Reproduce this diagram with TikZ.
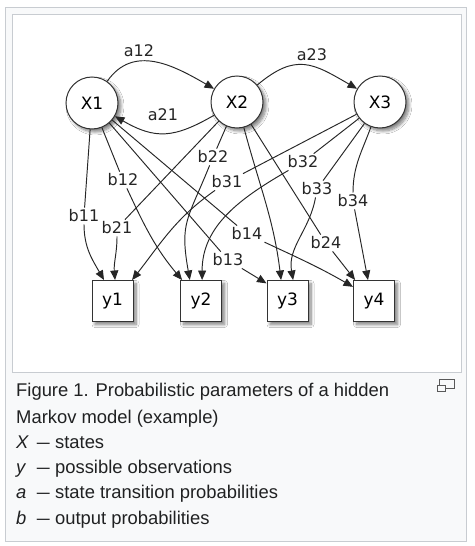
\documentclass[tikz,border=0pt]{standalone}
\usepackage{fontspec}
\usepackage{graphicx}
\setmainfont{Liberation Sans}
\newfontfamily\dvs{DejaVu Sans}
\usetikzlibrary{arrows.meta,shadows.blur}
\definecolor{framec}{HTML}{C8CCD1}
\definecolor{capbg}{HTML}{F8F9FA}
\definecolor{txt}{HTML}{202122}
\newcommand{\capdash}[1]{\makebox[20.7pt][l]{\textit{#1}}\scalebox{1.26}[1]{–}\hspace{5.3pt}}
\begin{document}
\begin{tikzpicture}[x=1pt,y=1pt,
  shadowed/.style={blur shadow={shadow xshift=3pt, shadow yshift=-3pt, shadow blur radius=3pt, shadow blur steps=8, shadow opacity=50}},
  statenode/.style={circle, draw=black!80, line width=1pt, fill=white, minimum size=52pt, inner sep=0pt,
    font=\dvs\fontsize{17}{17}\selectfont, shadowed},
  obsnode/.style={rectangle, draw=black!80, line width=1pt, fill=white, minimum size=41pt, inner sep=0pt,
    font=\dvs\fontsize{17}{17}\selectfont, shadowed},
  lbl/.style={inner sep=2pt, font=\dvs\fontsize{16}{16}\selectfont, text=black!85},
  link/.style={line width=0.95pt, draw=black!85},
  arr/.style={link, -{Triangle[length=9.5pt,width=8pt]}},
  captxt/.style={anchor=base west, inner sep=0pt, text=txt, font=\fontsize{18.4}{18.4}\selectfont},
]
\useasboundingbox (0,0) rectangle (474,-546);
\fill[white] (0,0) rectangle (474,-546);
\draw[framec, fill=capbg, line width=1pt] (5.5,-7.5) rectangle (466.5,-541.5);
\draw[framec, fill=white, line width=1pt] (12,-14) rectangle (461.5,-372);
% enlarge icon
\draw[black!65, line width=1pt] (439.5,-379.5) rectangle (454,-388.5);
\draw[black!65, line width=1pt, fill=capbg] (437.5,-385) rectangle (445,-391.5);

% states
\node[statenode] (X1) at (92,-103) {X1};
\node[statenode] (X2) at (237,-102) {X2};
\node[statenode] (X3) at (380,-102) {X3};
% observations
\node[obsnode] (y1) at (112.5,-301) {y1};
\node[obsnode] (y2) at (201,-301) {y2};
\node[obsnode] (y3) at (287.5,-301) {y3};
\node[obsnode] (y4) at (374,-301) {y4};

% labels
\node[lbl] (a12) at (139,-51) {a12};
\node[lbl] (a23) at (312,-55) {a23};
\node[lbl] (a21) at (163,-115) {a21};
\node[lbl] (b22) at (213,-157) {b22};
\node[lbl] (b32) at (303,-162) {b32};
\node[lbl] (b12) at (123,-180) {b12};
\node[lbl] (b31) at (227,-182) {b31};
\node[lbl] (b33) at (317,-189) {b33};
\node[lbl] (b34) at (353,-201) {b34};
\node[lbl] (b11) at (84,-216) {b11};
\node[lbl] (b21) at (117,-228) {b21};
\node[lbl] (b14) at (247,-234) {b14};
\node[lbl] (b24) at (326,-243) {b24};
\node[lbl] (b13) at (228,-260) {b13};

% transitions
\draw[arr] (X1) to[out=55,in=150,looseness=1.1] (X2);
\draw[arr] (X2) to[out=40,in=150,looseness=1.3] (X3);
\draw[arr] (X2) to[out=-150,in=-30,looseness=1.2] (X1);

% emissions from X1
\draw[link] (X1) -- (b11); \draw[arr] (b11) to[out=-90,in=120] (y1.112);
\draw[link] (X1) -- (b12); \draw[arr] (b12) to[out=-65,in=130] (y2.132);
\draw[link] (X1) -- (b13); \draw[arr] (b13) -- (y3.140);
\draw[link] (X1) -- (b14); \draw[arr] (b14) to[out=-25,in=150] (y4.146);
% emissions from X2
\draw[link] (X2) -- (b21); \draw[arr] (b21) to[out=-90,in=95] (y1.83);
\draw[link] (X2) -- (b22); \draw[arr] (b22) to[out=-112,in=100,looseness=1.3] (y2.118);
\draw[arr] (X2) to[out=-75,in=97] (y3.107);
\draw[link] (X2) -- (b24); \draw[arr] (b24) -- (y4.132);
% emissions from X3
\draw[link] (X3) -- (b31); \draw[arr] (b31) to[out=-145,in=52] (y1.47);
\draw[link] (X3) -- (b32); \draw[arr] (b32) to[out=-150,in=90] (y2.87);
\draw[link] (X3) -- (b33); \draw[arr] (b33) to[out=-100,in=100] (y3.75);
\draw[link] (X3) to[out=-110,in=90] (b34); \draw[arr] (b34) -- (y4.106);

% caption
\node[captxt] (cap1) at (16,-396.7) {Figure 1. Probabilistic parameters of a hidden};
\node[captxt] (cap2) at (16,-423.3) {Markov model (example)};
\node[captxt] (cap3) at (16,-448.5) {\capdash{X}states};
\node[captxt] (cap4) at (16,-473.5) {\capdash{y}possible observations};
\node[captxt] (cap5) at (16,-498.5) {\capdash{a}state transition probabilities};
\node[captxt] (cap6) at (16,-524) {\capdash{b}output probabilities};
\end{tikzpicture}
\end{document}
